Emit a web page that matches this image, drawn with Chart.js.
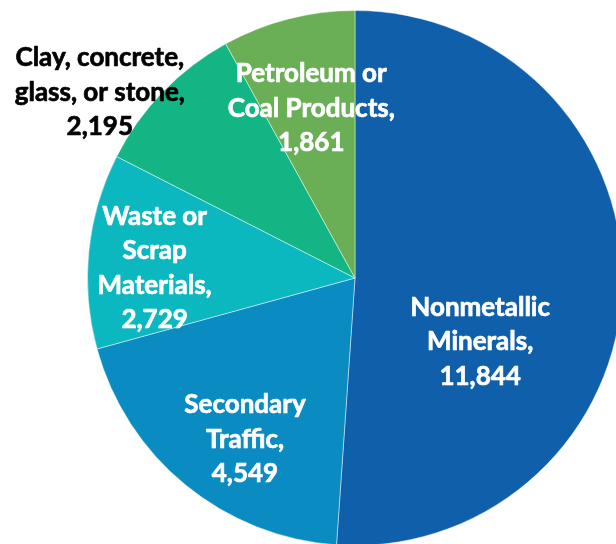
<!DOCTYPE html>
<html>
<head>
<meta charset="utf-8">
<script src="https://cdn.jsdelivr.net/npm/chart.js@4/dist/chart.umd.min.js"></script>
<style>
  html, body { margin: 0; padding: 0; background: #fff; overflow: hidden; }
  #wrap { width: 616px; height: 544px; overflow: hidden; position: relative; }
  #pie { position: absolute; left: 0; top: 0; }
</style>
</head>
<body>
<div id="wrap">
  <canvas id="pie" width="710" height="546"></canvas>
</div>
<script>
// slices run clockwise from 12 o'clock
const categories = [
  ["Nonmetallic", "Minerals,"],
  ["Secondary", "Traffic,"],
  ["Waste or", "Scrap", "Materials,"],
  ["Clay, concrete,", "glass, or stone,"],
  ["Petroleum or", "Coal Products,"],
];
const tonnage = [11844, 4549, 2729, 2195, 1861];
const sliceColors = ["#0f5fab", "#0a8bc2", "#0cb8c0", "#13b584", "#6aaf56"];
const labelColors = ["#fff", "#fff", "#fff", "#000", "#fff"];

// where each label sits: fraction of radius, and angle nudge in degrees
const labelRadius = [0.525, 0.73, 0.75, 1.18, 0.655];
const labelShift = [25, -5, -3, -8, 0];

const sliceLabels = {
  id: "sliceLabels",
  afterDatasetsDraw(chart) {
    const ctx = chart.ctx;
    const meta = chart.getDatasetMeta(0);
    const values = chart.data.datasets[0].data;
    ctx.save();
    ctx.font = "bold 26px Lato";
    ctx.textAlign = "center";
    ctx.textBaseline = "middle";
    ctx.lineWidth = 0.7;
    ctx.lineJoin = "round";
    const lineH = 34.5;
    meta.data.forEach((arc, i) => {
      const p = arc.getProps(["x", "y", "startAngle", "endAngle", "outerRadius"], true);
      const mid = (p.startAngle + p.endAngle) / 2 + labelShift[i] * Math.PI / 180;
      const r = p.outerRadius * labelRadius[i];
      const cx = p.x + Math.cos(mid) * r;
      const cy = p.y + Math.sin(mid) * r;
      const lines = [...categories[i], values[i].toLocaleString("en-US")];
      const top = cy - (lines.length - 1) * lineH / 2;
      ctx.fillStyle = labelColors[i];
      ctx.strokeStyle = labelColors[i];
      lines.forEach((line, j) => {
        // slight stroke to give the heavier weight
        ctx.strokeText(line, cx, top + j * lineH);
        ctx.fillText(line, cx, top + j * lineH);
      });
    });
    ctx.restore();
  },
};

new Chart(document.querySelector("#pie"), {
  type: "pie",
  data: {
    labels: categories.map((c) => c.join(" ")),
    datasets: [
      {
        data: tonnage,
        backgroundColor: sliceColors,
        borderColor: "rgba(255,255,255,0.45)",
        borderWidth: 1,
      },
    ],
  },
  options: {
    responsive: false,
    animation: false,
    layout: { padding: { top: 10, bottom: 0, left: 0, right: 0 } },
    plugins: { legend: { display: false }, tooltip: { enabled: false } },
  },
  plugins: [sliceLabels],
});
</script>
</body>
</html>
